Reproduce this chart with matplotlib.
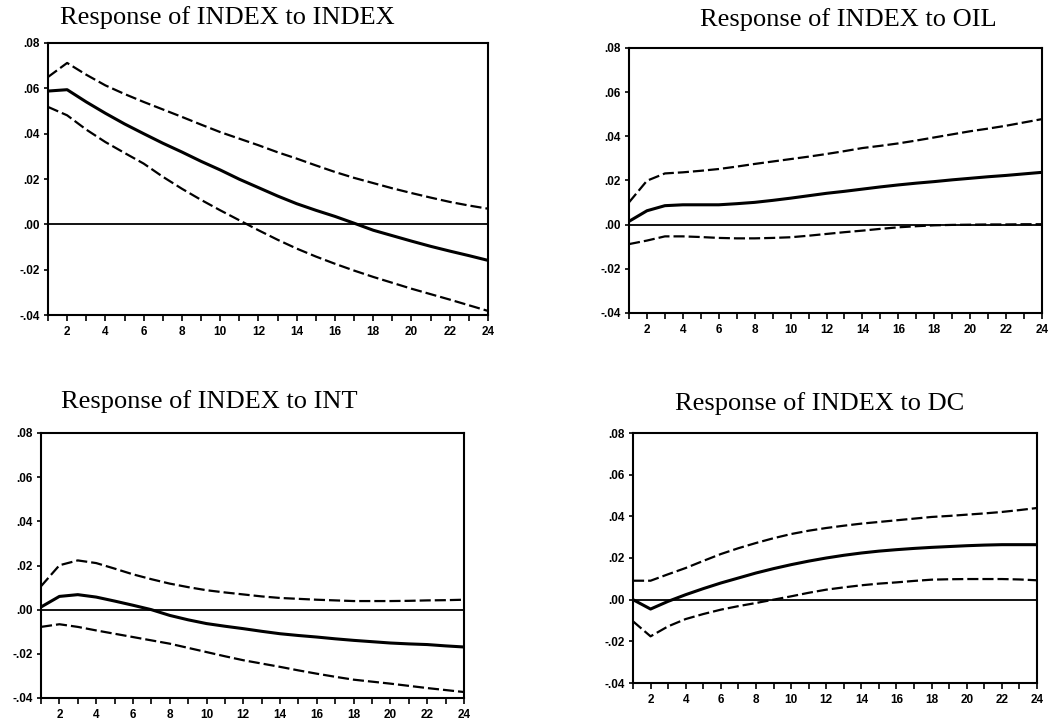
import matplotlib
matplotlib.use('Agg')
import matplotlib.pyplot as plt
from matplotlib.ticker import FuncFormatter, MultipleLocator

periods = list(range(1, 25))

titles = ['Response of INDEX to INDEX', 'Response of INDEX to OIL',
          'Response of INDEX to INT', 'Response of INDEX to DC']

# impulse responses (middle) and +/- 2 s.e. bands
mid_index = [0.0588, 0.0594, 0.0540, 0.0490, 0.0443, 0.0400, 0.0358, 0.0319, 0.0278, 0.0240, 0.0199, 0.0162,
             0.0125, 0.0091, 0.0062, 0.0035, 0.0005, -0.0026, -0.0050, -0.0074, -0.0097, -0.0118, -0.0138, -0.0159]
up_index = [0.0650, 0.0712, 0.0660, 0.0613, 0.0575, 0.0540, 0.0507, 0.0474, 0.0440, 0.0407, 0.0378, 0.0349,
            0.0318, 0.0290, 0.0260, 0.0231, 0.0205, 0.0182, 0.0159, 0.0138, 0.0118, 0.0099, 0.0083, 0.0069]
lo_index = [0.0518, 0.0481, 0.0418, 0.0363, 0.0315, 0.0268, 0.0210, 0.0157, 0.0108, 0.0062, 0.0018, -0.0026,
            -0.0068, -0.0107, -0.0142, -0.0174, -0.0204, -0.0232, -0.0258, -0.0284, -0.0308, -0.0332, -0.0357, -0.0382]

mid_oil = [0.0015, 0.0063, 0.0086, 0.0090, 0.0090, 0.0090, 0.0095, 0.0101, 0.0110, 0.0120, 0.0131, 0.0142,
           0.0151, 0.0161, 0.0171, 0.0180, 0.0188, 0.0195, 0.0203, 0.0210, 0.0217, 0.0223, 0.0230, 0.0237]
up_oil = [0.0101, 0.0199, 0.0232, 0.0237, 0.0244, 0.0252, 0.0263, 0.0275, 0.0286, 0.0297, 0.0308, 0.0320,
          0.0333, 0.0347, 0.0357, 0.0368, 0.0381, 0.0395, 0.0409, 0.0423, 0.0435, 0.0448, 0.0463, 0.0478]
lo_oil = [-0.0088, -0.0072, -0.0053, -0.0053, -0.0056, -0.0060, -0.0062, -0.0062, -0.0060, -0.0057, -0.0050, -0.0042,
          -0.0034, -0.0027, -0.0019, -0.0012, -0.0007, -0.0003, -0.0001, 0.0000, 0.0001, 0.0001, 0.0002, 0.0002]

mid_int = [0.0012, 0.0060, 0.0068, 0.0057, 0.0039, 0.0020, 0.0000, -0.0026, -0.0046, -0.0063, -0.0075, -0.0086,
           -0.0098, -0.0109, -0.0117, -0.0124, -0.0132, -0.0139, -0.0145, -0.0151, -0.0155, -0.0158, -0.0164, -0.0169]
up_int = [0.0106, 0.0201, 0.0223, 0.0211, 0.0186, 0.0160, 0.0138, 0.0118, 0.0102, 0.0088, 0.0078, 0.0069,
          0.0060, 0.0053, 0.0049, 0.0045, 0.0042, 0.0039, 0.0039, 0.0039, 0.0040, 0.0042, 0.0043, 0.0045]
lo_int = [-0.0078, -0.0066, -0.0078, -0.0094, -0.0109, -0.0124, -0.0139, -0.0154, -0.0173, -0.0192, -0.0211, -0.0229,
          -0.0244, -0.0259, -0.0275, -0.0290, -0.0304, -0.0317, -0.0326, -0.0335, -0.0345, -0.0355, -0.0364, -0.0373]

mid_dc = [0.0000, -0.0045, -0.0008, 0.0024, 0.0053, 0.0080, 0.0104, 0.0128, 0.0149, 0.0168, 0.0185, 0.0200,
          0.0213, 0.0224, 0.0233, 0.0240, 0.0246, 0.0251, 0.0255, 0.0259, 0.0262, 0.0264, 0.0264, 0.0264]
up_dc = [0.0091, 0.0091, 0.0122, 0.0152, 0.0186, 0.0219, 0.0247, 0.0272, 0.0295, 0.0315, 0.0331, 0.0344,
         0.0355, 0.0365, 0.0373, 0.0381, 0.0389, 0.0397, 0.0402, 0.0408, 0.0414, 0.0421, 0.0430, 0.0440]
lo_dc = [-0.0104, -0.0176, -0.0128, -0.0093, -0.0069, -0.0048, -0.0031, -0.0016, 0.0000, 0.0016, 0.0033, 0.0048,
         0.0059, 0.0069, 0.0077, 0.0083, 0.0090, 0.0096, 0.0098, 0.0099, 0.0099, 0.0099, 0.0097, 0.0093]

series = [(mid_index, up_index, lo_index), (mid_oil, up_oil, lo_oil),
          (mid_int, up_int, lo_int), (mid_dc, up_dc, lo_dc)]

W, H = 1054, 723
# axes boxes in pixels: left, top, right, bottom
boxes = [(48, 43, 488, 315), (629, 48, 1042, 313),
         (41, 433, 464, 698), (633, 433, 1037, 683)]
# title centres in pixels
title_pos = [(227, 18), (848, 20), (209, 402), (820, 404)]


def eviews_fmt(v, pos):
    s = '%.2f' % v
    if s.startswith('-0'):
        return '-' + s[2:]
    if s.startswith('0'):
        return s[1:]
    return s


fig = plt.figure(figsize=(W / 100, H / 100), dpi=100)
fig.patch.set_facecolor('white')

for i in range(4):
    l, t, r, b = boxes[i]
    ax = fig.add_axes([l / W, 1 - b / H, (r - l) / W, (b - t) / H])
    mid, up, lo = series[i]

    ax.axhline(0, color='black', lw=1.3, zorder=1)
    ax.plot(periods, up, color='black', lw=1.6, ls=(0, (5, 1.8)))
    ax.plot(periods, lo, color='black', lw=1.6, ls=(0, (5, 1.8)))
    ax.plot(periods, mid, color='black', lw=2.2)

    ax.set_xlim(1, 24)
    ax.set_ylim(-0.04, 0.08)
    ax.xaxis.set_major_locator(MultipleLocator(2))
    ax.xaxis.set_minor_locator(MultipleLocator(1))
    ax.yaxis.set_major_locator(MultipleLocator(0.02))
    ax.yaxis.set_major_formatter(FuncFormatter(eviews_fmt))
    ax.tick_params(axis='both', which='both', direction='out', width=1.2, color='black')
    ax.tick_params(axis='x', which='both', length=4, pad=4)
    ax.tick_params(axis='y', length=3, pad=3)
    for lab in ax.get_xticklabels() + ax.get_yticklabels():
        lab.set_fontsize(8.5)
        lab.set_fontweight('bold')
        lab.set_family('Liberation Sans')
    for sp in ax.spines.values():
        sp.set_linewidth(1.5)

    tx, ty = title_pos[i]
    fig.text(tx / W, 1 - ty / H, titles[i], ha='center', va='center',
             family='Liberation Serif', fontsize=19)

fig.savefig('out.png', dpi=100, facecolor='white')
